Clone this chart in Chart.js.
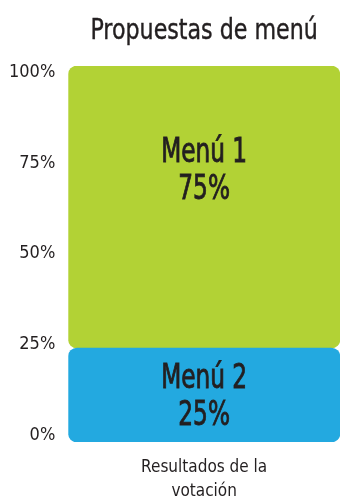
<!DOCTYPE html>
<html>
<head>
<meta charset="utf-8">
<script src="https://cdn.jsdelivr.net/npm/chart.js@4/dist/chart.umd.min.js"></script>
<style>
  html, body { margin: 0; padding: 0; background: #fff; }
  #wrap { width: 340px; height: 504px; }
</style>
</head>
<body>
<div id="wrap"><canvas id="chart"></canvas></div>
<script>
const chartTitle = "Propuestas de menú";
const categories = [["Resultados de la", "votación"]];
const seriesNames = ["Menú 2", "Menú 1"];
const menu2Values = [25];
const menu1Values = [75];
const tickValues = [0, 25, 50, 75, 100];

const FONT = "'DejaVu Sans Condensed', 'Liberation Sans Narrow', Roboto, sans-serif";
const INK = "#231f20";
const ROUND = { topLeft: 9, topRight: 9, bottomLeft: 9, bottomRight: 9 };

// narrow text: squeeze the glyphs horizontally around x,
// with an optional outline to thicken the strokes a little
function narrowText(ctx, text, x, y, squeeze, weight) {
  ctx.save();
  ctx.translate(x, y);
  ctx.scale(squeeze, 1);
  ctx.fillText(text, 0, 0);
  if (weight) {
    ctx.lineWidth = weight;
    ctx.strokeText(text, 0, 0);
  }
  ctx.restore();
}

// title above the plot and the "Menú N / NN%" captions inside each segment
const textLayer = {
  id: "textLayer",
  afterDatasetsDraw(chart) {
    const ctx = chart.ctx;
    const area = chart.chartArea;
    const y = chart.scales.y;
    ctx.save();
    ctx.fillStyle = INK;
    ctx.strokeStyle = INK;
    ctx.textAlign = "center";
    ctx.textBaseline = "middle";

    ctx.font = "29px " + FONT;
    narrowText(ctx, chartTitle, (area.left + area.right) / 2, 31, 0.85, 0.4);

    ctx.font = "34px " + FONT;
    chart.data.datasets.forEach((ds, i) => {
      chart.getDatasetMeta(i).data.forEach((bar, j) => {
        const mid = y.getPixelForValue(ds.captionAt);
        narrowText(ctx, ds.label, bar.x, mid - 16, 0.76, 0.9);
        narrowText(ctx, ds.data[j] + "%", bar.x, mid + 21, 0.76, 0.9);
      });
    });
    ctx.restore();
  }
};

new Chart(document.getElementById("chart"), {
  type: "bar",
  data: {
    labels: categories,
    datasets: [
      {
        label: seriesNames[0],
        data: menu2Values,
        captionAt: 12.5,
        backgroundColor: "#23a9e0",
        borderRadius: ROUND,
        borderSkipped: false,
        categoryPercentage: 1,
        barPercentage: 1
      },
      {
        label: seriesNames[1],
        data: menu1Values,
        captionAt: 72.6,
        backgroundColor: "#b2d235",
        borderRadius: ROUND,
        borderSkipped: false,
        categoryPercentage: 1,
        barPercentage: 1
      }
    ]
  },
  options: {
    responsive: true,
    maintainAspectRatio: false,
    animation: false,
    events: [],
    layout: { padding: { top: 66, right: 0, left: 9, bottom: 0 } },
    plugins: {
      legend: { display: false },
      tooltip: { enabled: false },
      title: { display: false }
    },
    scales: {
      x: {
        stacked: true,
        grid: { display: false, drawTicks: false },
        border: { display: false },
        // tick padding is counted on both sides of the labels; keep one
        afterFit(axis) { axis.height -= axis.options.ticks.padding; },
        ticks: {
          color: INK,
          font: { family: FONT, size: 17, lineHeight: 1.41 },
          padding: 14
        }
      },
      y: {
        stacked: true,
        min: 0,
        max: 100,
        display: false
      },
      yTicks: {
        position: "left",
        min: -1.93,
        max: 101.7,
        grid: { display: false, drawTicks: false },
        border: { display: false },
        afterBuildTicks(axis) {
          axis.ticks = tickValues.map(v => ({ value: v }));
        },
        afterFit(axis) { axis.width -= axis.options.ticks.padding; },
        ticks: {
          color: INK,
          font: { family: FONT, size: 18 },
          padding: 13,
          callback: v => v + "%"
        }
      }
    }
  },
  plugins: [textLayer]
});
</script>
</body>
</html>
